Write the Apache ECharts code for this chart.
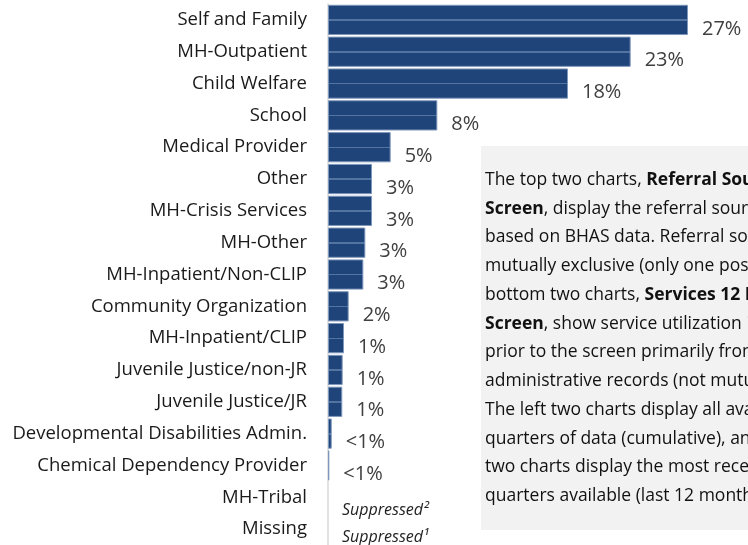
<!DOCTYPE html>
<html><head><meta charset="utf-8">
<script src="https://cdn.jsdelivr.net/npm/echarts@6/dist/echarts.min.js"></script>
<style>html,body{margin:0;padding:0;background:#fff;}#c{width:748px;height:545px;}</style>
</head><body><div id="c"></div>
<script>
const categories = ["Self and Family","MH-Outpatient","Child Welfare","School","Medical Provider","Other","MH-Crisis Services","MH-Other","MH-Inpatient/Non-CLIP","Community Organization","MH-Inpatient/CLIP","Juvenile Justice/non-JR","Juvenile Justice/JR","Developmental Disabilities Admin.","Chemical Dependency Provider","MH-Tribal","Missing"];
const values = [27.0, 22.7, 18.0, 8.2, 4.7, 3.3, 3.3, 2.8, 2.65, 1.55, 1.2, 1.1, 1.07, 0.28, 0.1, 0, 0];
const valueLabels = ["27%","23%","18%","8%","5%","3%","3%","3%","3%","2%","1%","1%","1%","<1%","<1%","Suppressed²","Suppressed¹"];
const noteLines = [
  [["The top two charts, ",0],["Referral Sources Prior to",1]],
  [["Screen",1],[", display the referral sources",0]],
  [["based on BHAS data. Referral sources are",0]],
  [["mutually exclusive (only one possible). The",0]],
  [["bottom two charts, ",0],["Services 12 Months Prior to",1]],
  [["Screen",1],[", show service utilization in the year",0]],
  [["prior to the screen primarily from",0]],
  [["administrative records (not mutually exclusive).",0]],
  [["The left two charts display all available",0]],
  [["quarters of data (cumulative), and the right",0]],
  [["two charts display the most recent four",0]],
  [["quarters available (last 12 months).",0]]
];

const FONT = 'Open Sans';
const chart = echarts.init(document.getElementById('c'));
const barColor = {type:'linear',x:0,y:0,x2:0,y2:1,colorStops:[
  {offset:0,color:'#1F4479'},{offset:0.48,color:'#1F4479'},
  {offset:0.48,color:'#5373A0'},{offset:0.53,color:'#5373A0'},
  {offset:0.53,color:'#1F4479'},{offset:1,color:'#1F4479'}]};

const graphics = [{
  type:'rect', shape:{x:481,y:146,width:300,height:384}, style:{fill:'#F2F2F2'}, z:0
}];
noteLines.forEach((line,i)=>{
  const text = line.map(([t,b])=> b ? '{b|'+t+'}' : '{n|'+t+'}').join('');
  graphics.push({type:'text', x:485, y:180+i*28.75, z:1,
    style:{text:text, verticalAlign:'middle', font:'17px '+FONT, fill:'#111',
      rich:{n:{fontFamily:FONT,fontSize:17.5,color:'#111'},b:{fontFamily:FONT,fontSize:17.5,fontWeight:'bold',color:'#111'}}}});
});

const seriesData = values.map((v,i)=>{
  if (i >= 15) {
    return {value:v, itemStyle:{borderWidth:0},
      label:{fontStyle:'italic', fontSize:16, color:'#222', offset:[0, i===15?13:8]}};
  }
  return v;
});

chart.setOption({
  animation:false,
  grid:{left:328, top:4, height:541, width:420, containLabel:false},
  xAxis:{type:'value', min:0, max:31.5, show:false},
  yAxis:{type:'category', data:categories, inverse:true,
    axisLine:{show:true, lineStyle:{color:'#D9D9D9', width:1.5}},
    axisTick:{show:false},
    axisLabel:{margin:21, fontFamily:FONT, fontSize:18.5, color:'#1a1a1a'}},
  series:[{
    type:'bar', data:seriesData, barCategoryGap:'5%',
    itemStyle:{color:barColor, borderColor:'#7E97BC', borderWidth:1},
    label:{show:true, position:'right', distance:14,
      formatter:p=>valueLabels[p.dataIndex],
      fontFamily:FONT, fontSize:20, color:'#404040', offset:[0,9]}
  }],
  graphic:graphics
});
</script></body></html>
